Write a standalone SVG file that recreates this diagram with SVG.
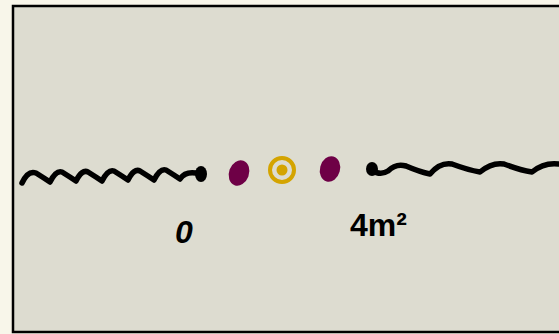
<svg xmlns="http://www.w3.org/2000/svg" width="559" height="334" viewBox="0 0 559 334">
<style>
.wave{fill:none;stroke:#000;stroke-width:5.5;stroke-linecap:round;stroke-linejoin:round}
.lbl{font-family:"Liberation Sans",sans-serif;font-size:32px;font-weight:bold;fill:#000}
.blob{fill:#6e0046}
</style>
<rect x="0" y="0" width="559" height="334" fill="#f8f6ea"/>
<rect x="13" y="6" width="560" height="326" fill="#dddcd0" stroke="#000" stroke-width="2.5"/>
<g id="connectors">
<path class="wave" d="M22,183 Q28,170 36,173 Q44,178 50,182 Q56,170 62,172 Q70,177 76,181 Q82,169 88,172 Q96,177 102,181 Q108,169 114,171 Q122,176 128,180 Q134,168 140,171 Q148,176 154,180 Q160,168 166,170 Q174,175 180,179 Q186,170 200,174"/>
<path class="wave" d="M372,170 Q380,176 388,171 Q396,163 406,166 Q420,172 430,174 Q440,162 452,164 Q468,170 480,172 Q492,162 504,164 Q520,170 532,172 Q544,162 559,164"/>
</g>
<g id="left-end"><ellipse cx="201" cy="174" rx="6" ry="8" fill="#000"/></g>
<g id="right-end"><ellipse cx="372" cy="169" rx="6" ry="7" fill="#000"/></g>
<g id="blob-left"><ellipse class="blob" cx="239" cy="173" rx="10" ry="13" transform="rotate(20 239 173)"/></g>
<g id="ring"><circle cx="282" cy="170" r="12" fill="none" stroke="#d4a400" stroke-width="4"/><circle cx="282" cy="170" r="5.5" fill="#d4a400"/></g>
<g id="blob-right"><ellipse class="blob" cx="330" cy="169" rx="10" ry="13" transform="rotate(15 330 169)"/></g>
<g id="label-0"><text class="lbl" x="175" y="243" font-style="italic">0</text></g>
<g id="label-4m2"><text class="lbl" x="350" y="236">4m²</text></g>
</svg>
